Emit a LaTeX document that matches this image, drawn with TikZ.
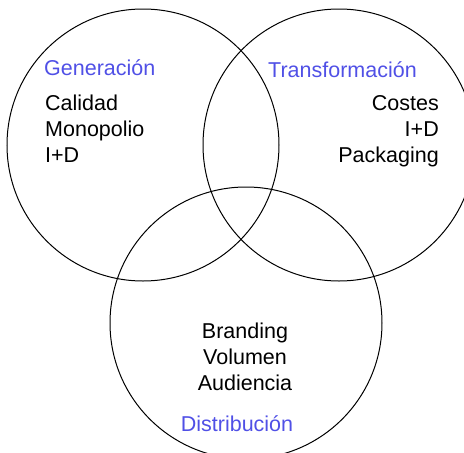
\documentclass[tikz,border=0pt]{standalone}
\usepackage{fontspec}
\setmainfont{Liberation Sans}
\definecolor{areablue}{RGB}{80,80,230}

\begin{document}
\begin{tikzpicture}[x=1pt,y=-1pt,
  ring/.style={draw=black, line width=1pt, circle, minimum size=272pt, inner sep=0pt},
  area/.style={text=areablue, font=\fontsize{21.5}{25.7}\selectfont, inner sep=0pt},
  items/.style={font=\fontsize{21.5}{25.7}\selectfont, inner sep=0pt}]
\useasboundingbox (0,0) rectangle (464,453);
\node[ring] (gencirc) at (143,145) {};
\node[ring] (transcirc) at (339,145) {};
\node[ring] (distcirc) at (246,323) {};
\node[area, anchor=base west] (gen) at (44,75) {Generación};
\node[items, anchor=base west, align=left] (genlist) at (45,162) {Calidad\\Monopolio\\I+D};
\node[area, anchor=base west] (trans) at (268,77) {Transformación};
\node[items, anchor=base east, align=right] (translist) at (439,162) {Costes\\I+D\\Packaging};
\node[items, anchor=base, align=center] (distlist) at (245,390) {Branding\\Volumen\\Audiencia};
\node[area, anchor=base] (dist) at (237,431) {Distribución};
\end{tikzpicture}
\end{document}
